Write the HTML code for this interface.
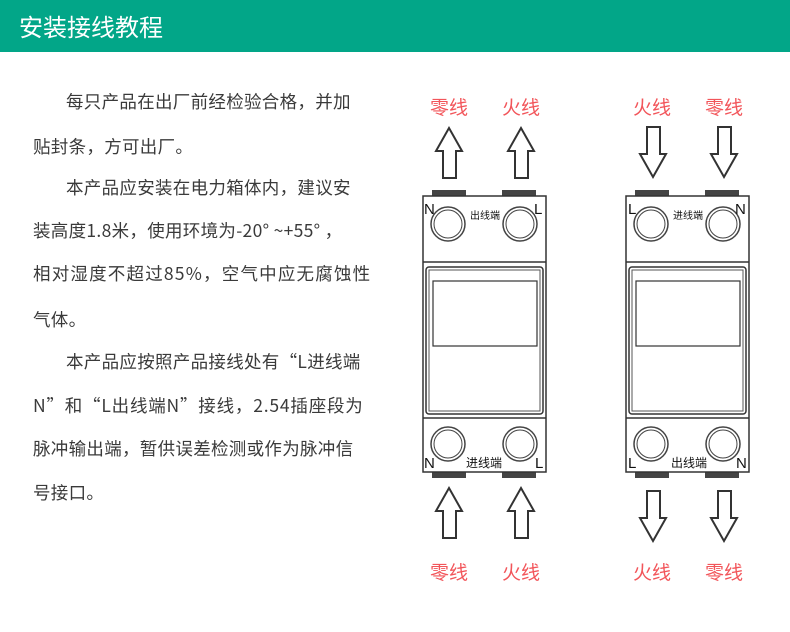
<!DOCTYPE html>
<html><head><meta charset="utf-8"><style>
body{margin:0;width:790px;height:632px;background:#fff;position:relative;overflow:hidden;font-family:"Noto Sans CJK SC","Liberation Sans",sans-serif}
.hd{position:absolute;left:0;top:0;width:790px;height:52px;background:#02a688;color:#fff;font-size:24px;line-height:52px;padding-left:19px;box-sizing:border-box}
.t{position:absolute;left:33px;font-size:17.5px;line-height:26px;color:#3a3a3a;white-space:nowrap;letter-spacing:0.3px}
</style></head><body>
<div class="hd">安装接线教程</div>
<div class="t" style="top:89px;left:66px">每只产品在出厂前经检验合格，并加</div>
<div class="t" style="top:134px">贴封条，方可出厂。</div>
<div class="t" style="top:175px;left:66px">本产品应安装在电力箱体内，建议安</div>
<div class="t" style="top:218px">装高度1.8米，使用环境为-20°&nbsp;~+55°&nbsp;，</div>
<div class="t" style="top:261px;letter-spacing:1.2px">相对湿度不超过85%，空气中应无腐蚀性</div>
<div class="t" style="top:307px">气体。</div>
<div class="t" style="top:349px;left:66px">本产品应按照产品接线处有“L进线端</div>
<div class="t" style="top:393px;letter-spacing:0.8px">N”和“L出线端N”接线，2.54插座段为</div>
<div class="t" style="top:436px">脉冲输出端，暂供误差检测或作为脉冲信</div>
<div class="t" style="top:480px">号接口。</div>
<svg width="790" height="632" style="position:absolute;left:0;top:0" font-family="Liberation Sans, Noto Sans CJK SC, sans-serif">
<defs>
<g id="dev">
<rect x="432" y="190" width="34" height="7" fill="#444"/>
<rect x="502" y="190" width="34" height="7" fill="#444"/>
<rect x="432" y="471" width="34" height="7" fill="#444"/>
<rect x="502" y="471" width="34" height="7" fill="#444"/>
<rect x="423" y="196" width="123" height="276" fill="#fff" stroke="#333" stroke-width="1.5"/>
<line x1="423" y1="262" x2="546" y2="262" stroke="#333" stroke-width="1.5"/>
<line x1="423" y1="418" x2="546" y2="418" stroke="#333" stroke-width="1.5"/>
<rect x="426" y="267" width="117" height="147" rx="3" fill="none" stroke="#333" stroke-width="1.5"/>
<rect x="429" y="270" width="111" height="141" fill="none" stroke="#555" stroke-width="1"/>
<rect x="433" y="281" width="104" height="65" fill="none" stroke="#333" stroke-width="1.2"/>
<g fill="none" stroke="#444">
<circle cx="448" cy="224" r="17" stroke-width="1.5"/><circle cx="448" cy="224" r="14"/>
<circle cx="520" cy="224" r="17" stroke-width="1.5"/><circle cx="520" cy="224" r="14"/>
<circle cx="448" cy="444" r="17" stroke-width="1.5"/><circle cx="448" cy="444" r="14"/>
<circle cx="520" cy="444" r="17" stroke-width="1.5"/><circle cx="520" cy="444" r="14"/>
</g>
</g>
<path id="up" d="M0,0 L13,23 L7,23 L7,50 L-6,50 L-6,23 L-13,23 Z" fill="#fff" stroke="#333" stroke-width="2"/>
<path id="dn" d="M0,0 L13,-23 L7,-23 L7,-50 L-6,-50 L-6,-23 L-13,-23 Z" fill="#fff" stroke="#333" stroke-width="2"/>
</defs>
<use href="#dev"/>
<text x="424" y="214" font-size="15" fill="#111">N</text>
<text x="534" y="214" font-size="15" fill="#111">L</text>
<text x="470" y="219" font-size="10" fill="#111">出线端</text>
<text x="424" y="468" font-size="15" fill="#111">N</text>
<text x="535" y="468" font-size="15" fill="#111">L</text>
<text x="466" y="467" font-size="12" fill="#111">进线端</text>
<use href="#up" x="449" y="128"/><use href="#up" x="521" y="128"/>
<use href="#up" x="449" y="488"/><use href="#up" x="521" y="488"/>
<g font-size="19" fill="#f2555a">
<text x="430" y="114">零线</text><text x="502" y="114">火线</text>
<text x="430" y="579">零线</text><text x="502" y="579">火线</text>
<text x="633" y="114">火线</text><text x="705" y="114">零线</text>
<text x="633" y="579">火线</text><text x="705" y="579">零线</text>
</g>
<use href="#dev" x="203"/>
<text x="628" y="214" font-size="15" fill="#111">L</text>
<text x="735" y="214" font-size="15" fill="#111">N</text>
<text x="673" y="219" font-size="10" fill="#111">进线端</text>
<text x="628" y="468" font-size="15" fill="#111">L</text>
<text x="736" y="468" font-size="15" fill="#111">N</text>
<text x="671" y="467" font-size="12" fill="#111">出线端</text>
<use href="#dn" x="653" y="177"/><use href="#dn" x="724" y="177"/>
<use href="#dn" x="653" y="541"/><use href="#dn" x="724" y="541"/>
</svg>
</body></html>
